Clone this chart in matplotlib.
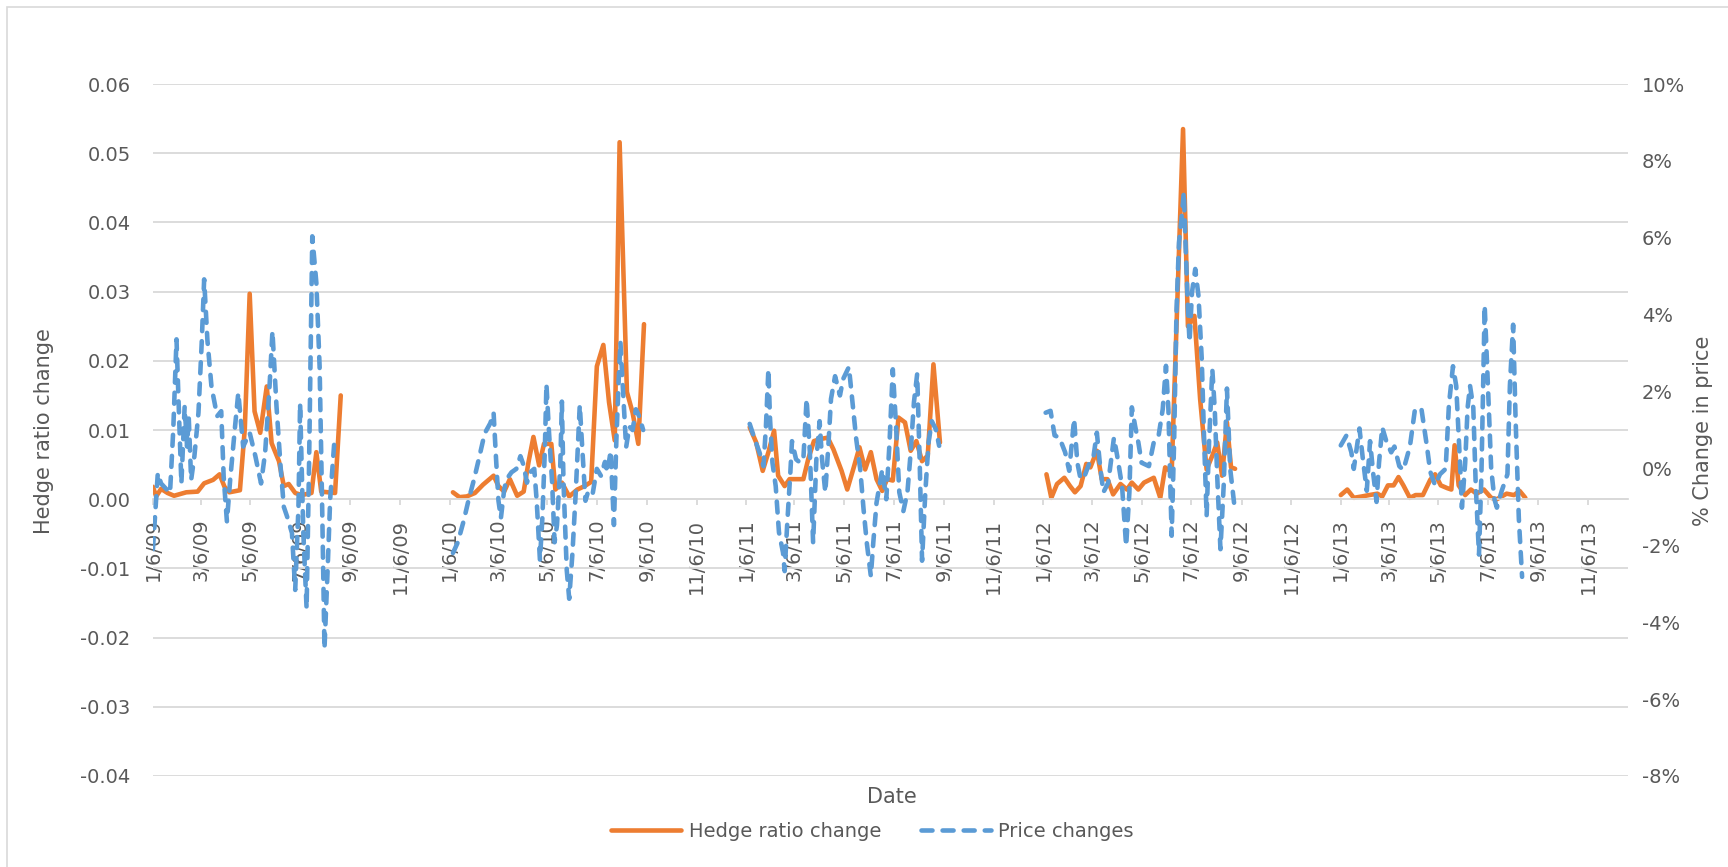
import pandas as pd
import matplotlib
matplotlib.use("Agg")
import matplotlib.pyplot as plt
import matplotlib.dates as mdates
from matplotlib.ticker import FuncFormatter, MultipleLocator
from matplotlib.patches import Rectangle


# Days counted from 6 Jan of each year
years = [2009, 2010, 2011, 2012, 2013]

# Hedge ratio change (left axis)
hedgeDays2009 = [0, 4, 10, 18, 26, 41, 55, 63, 74, 82, 88, 94, 107, 113, 119, 125, 132, 140, 146, 155,
                 161, 167, 175, 183, 195, 201, 207, 224, 231]
hedge2009 = [0.0018, 0.0004, 0.0015, 0.0009, 0.0005, 0.0010, 0.0011, 0.0023, 0.0028, 0.0036,
             0.0018, 0.0010, 0.0013, 0.0102, 0.0297, 0.0127, 0.0096, 0.0163, 0.0081, 0.0055,
             0.0019, 0.0022, 0.0009, 0.0006, 0.0009, 0.0068, 0.0011, 0.0009, 0.0150]

hedgeDays2010 = [4, 12, 21, 31, 41, 54, 60, 67, 74, 83, 91, 97, 103, 110, 116, 125, 130, 138, 147, 157,
                 166, 174, 181, 189, 196, 203, 209, 218, 225, 232, 239]
hedge2010 = [0.0010, 0.0003, 0.0004, 0.0009, 0.0021, 0.0034, 0.0019, 0.0011, 0.0029, 0.0005,
             0.0011, 0.0054, 0.0090, 0.0049, 0.0080, 0.0080, 0.0014, 0.0024, 0.0004, 0.0014,
             0.0019, 0.0025, 0.0192, 0.0223, 0.0140, 0.0085, 0.0516, 0.0155, 0.0125, 0.0080, 0.0253]

hedgeDays2011 = [4, 12, 20, 27, 34, 39, 47, 53, 70, 76, 83, 91, 100, 107, 117, 124, 132, 139, 146, 153,
                 160, 167, 173, 180, 187, 195, 202, 209, 216, 223, 230, 238]
hedge2011 = [0.0104, 0.0082, 0.0041, 0.0068, 0.0099, 0.0034, 0.0019, 0.0029, 0.0029, 0.0058,
             0.0084, 0.0087, 0.0089, 0.0072, 0.0041, 0.0014, 0.0046, 0.0075, 0.0043, 0.0068,
             0.0029, 0.0012, 0.0029, 0.0027, 0.0118, 0.0111, 0.0070, 0.0084, 0.0055, 0.0063,
             0.0195, 0.0082]

hedgeDays2012 = [4, 10, 17, 26, 33, 39, 46, 53, 58, 66, 72, 79, 86, 95, 103, 109, 117, 124, 136, 144,
                 150, 158, 172, 178, 186, 193, 201, 208, 214, 220, 226, 231, 236]
hedge2012 = [0.0036, 0.0002, 0.0022, 0.0031, 0.0019, 0.0010, 0.0019, 0.0051, 0.0046, 0.0070,
             0.0029, 0.0029, 0.0007, 0.0022, 0.0014, 0.0024, 0.0014, 0.0024, 0.0031, 0.0002,
             0.0046, 0.0039, 0.0535, 0.0250, 0.0265, 0.0145, 0.0043, 0.0063, 0.0082, 0.0034,
             0.0111, 0.0046, 0.0044]

hedgeDays2013 = [0, 8, 16, 26, 35, 45, 51, 58, 65, 71, 77, 85, 92, 101, 110, 116, 123, 131, 136, 140,
                 145, 153, 160, 167, 176, 185, 192, 204, 213, 220, 227]
hedge2013 = [0.0006, 0.0014, 0.0002, 0.0004, 0.0006, 0.0008, 0.0004, 0.0020, 0.0020, 0.0032,
             0.0020, 0.0002, 0.0006, 0.0006, 0.0028, 0.0036, 0.0020, 0.0016, 0.0014, 0.0078,
             0.0020, 0.0006, 0.0014, 0.0008, 0.0014, 0.0002, 0.0000, 0.0008, 0.0006, 0.0012, 0.0002]

# Price changes in % (right axis)
priceDays2009 = [0, 6, 10, 21, 25, 29, 32, 35, 39, 42, 44, 47, 51, 56, 60, 63, 67, 72, 79, 84,
                 87, 91, 95, 101, 105, 111, 119, 126, 133, 138, 143, 147, 152, 157, 161, 165, 171, 175, 179, 181,
                 185, 189, 192, 196, 201, 205, 208, 211, 215, 218, 223]
price2009 = [-2.10, -0.12, -0.39, -0.64, 1.00, 3.36, 1.45, -0.39, 1.61, 0.57,
             1.36, -0.30, 0.32, 1.45, 3.27, 4.92, 3.34, 2.13, 1.36, 1.49,
             -0.21, -1.38, -0.30, 1.09, 1.97, 0.57, 0.93, 0.32, -0.39, 0.41,
             1.97, 3.57, 1.61, 0.05, -1.00, -1.25, -1.68, -3.16, -1.00, 1.70,
             -1.68, -3.64, 0.05, 6.04, 4.83, 2.66, -0.82, -4.69, -2.56, -0.80, 0.66]

priceDays2010 = [4, 10, 17, 23, 30, 36, 43, 50, 54, 57, 60, 63, 67, 70, 76, 82, 87, 91, 95, 99,
                 104, 107, 111, 114, 117, 119, 122, 126, 129, 132, 136, 138, 140, 144, 147, 151, 155, 158, 160, 163,
                 167, 171, 176, 181, 186, 191, 194, 198, 202, 205, 208, 210, 213, 217, 221, 225, 229, 233, 238]
price2010 = [-2.20, -1.92, -1.38, -0.84, -0.28, 0.26, 0.91, 1.18, 1.45, 0.26,
             -0.84, -1.29, -0.55, -0.28, -0.10, -0.01, 0.32, 0.08, -0.37, -0.10,
             -0.01, -0.84, -2.38, -1.29, 0.46, 2.19, 1.00, -0.37, -1.92, -1.47,
             0.08, 1.74, -0.37, -2.65, -3.39, -2.20, -0.64, 0.73, 1.65, 0.55,
             -0.84, -0.55, -0.64, -0.01, -0.19, 0.17, -0.10, 0.46, -1.47, 0.73,
             2.37, 3.29, 2.10, 0.55, 1.09, 1.00, 1.54, 1.36, 1.00]

priceDays2011 = [4, 10, 16, 21, 24, 27, 29, 32, 36, 40, 45, 47, 50, 54, 56, 61, 66, 70, 74, 78,
                 82, 86, 90, 93, 97, 101, 104, 109, 115, 119, 126, 130, 135, 140, 144, 148, 153, 156, 160, 167,
                 172, 176, 180, 184, 188, 193, 198, 202, 206, 210, 213, 216, 220, 224, 228, 233, 237]
price2011 = [1.16, 0.77, 0.42, 0.06, 1.11, 2.58, 1.29, 0.15, -0.46, -1.66,
             -2.19, -2.67, -1.50, -0.10, 0.71, 0.24, 0.15, 0.24, 1.81, 0.42,
             -1.93, 0.24, 1.23, 0.24, -0.62, 0.68, 1.81, 2.40, 1.90, 2.33,
             2.64, 1.81, 0.77, -0.03, -1.05, -1.93, -2.80, -1.93, -0.89, -0.03,
             -0.80, 0.68, 2.58, 1.11, -0.62, -1.11, -0.62, 0.42, 1.72, 2.46,
             0.24, -2.40, -0.62, 0.68, 1.23, 1.02, 0.59]

priceDays2012 = [3, 9, 14, 20, 27, 32, 38, 42, 46, 51, 57, 62, 66, 70, 74, 80, 87, 91, 97, 102,
                 106, 109, 113, 117, 121, 130, 136, 142, 147, 151, 154, 156, 158, 161, 164, 167, 170, 173, 175, 178,
                 180, 183, 187, 191, 195, 198, 201, 204, 208, 211, 214, 218, 222, 226, 230, 235]
price2012 = [1.45, 1.50, 0.86, 0.80, 0.42, -0.06, 1.29, 0.15, -0.28, -0.19,
             0.15, 0.33, 0.93, 0.06, -0.62, -0.37, 0.80, 0.33, -0.46, -2.02,
             -0.62, 1.59, 1.11, 0.68, 0.15, 0.06, 0.68, 0.86, 1.54, 2.67,
             1.54, -0.19, -1.75, 0.68, 4.15, 5.88, 6.49, 7.19, 5.88, 4.15,
             3.29, 4.58, 5.19, 4.49, 2.85, 0.68, -1.23, 0.68, 2.58, 1.54,
             -0.19, -2.10, -0.44, 2.08, -0.01, -0.94]

priceDays2013 = [0, 7, 13, 16, 23, 27, 32, 36, 40, 44, 47, 51, 56, 62, 66, 72, 77, 85, 91, 99,
                 106, 110, 116, 122, 129, 133, 138, 142, 147, 149, 153, 156, 159, 163, 166, 170, 173, 177, 181, 185,
                 189, 192, 198, 205, 208, 212, 215, 219, 223]
price2013 = [0.60, 0.86, 0.42, -0.01, 1.04, 0.28, -0.58, 0.71, -0.15, -0.87,
             0.14, 1.07, 0.71, 0.42, 0.57, 0.06, -0.04, 0.57, 1.50, 1.58,
             0.57, -0.08, -0.44, -0.15, -0.01, 1.65, 2.66, 2.15, -0.01, -1.02,
             0.14, 1.58, 2.15, 1.58, -0.44, -2.24, -0.15, 4.24, 2.15, -0.01,
             -0.80, -1.02, -0.58, -0.15, 2.15, 3.74, 1.29, -1.30, -2.82]

hedgeDays = [hedgeDays2009, hedgeDays2010, hedgeDays2011, hedgeDays2012, hedgeDays2013]
hedgeVals = [hedge2009, hedge2010, hedge2011, hedge2012, hedge2013]
priceDays = [priceDays2009, priceDays2010, priceDays2011, priceDays2012, priceDays2013]
priceVals = [price2009, price2010, price2011, price2012, price2013]

orange = "#ED7D31"
blue = "#5B9BD5"
grey = "#D9D9D9"
textCol = "#595959"


def toDates(year, days):
    return pd.Timestamp("%d-01-06" % year) + pd.to_timedelta(days, unit="D")


def dateLabel(x, pos):
    d = mdates.num2date(x)
    return "%d/%d/%s" % (d.month, d.day, d.strftime("%y"))


plt.rcParams["font.family"] = ["DejaVu Sans"]
plt.rcParams["axes.unicode_minus"] = False

fig = plt.figure(figsize=(17.28, 8.67), dpi=100)
ax = fig.add_axes([0.0885, 0.105, 0.8535, 0.798])
ax2 = ax.twinx()

for i, year in enumerate(years):
    ax.plot(toDates(year, hedgeDays[i]), hedgeVals[i], color=orange, lw=3.3,
            solid_joinstyle="round", solid_capstyle="round",
            label="Hedge ratio change" if i == 0 else None)
    ax2.plot(toDates(year, priceDays[i]), priceVals[i], color=blue, lw=3.3,
             dashes=(2.4, 2.2), dash_capstyle="round", dash_joinstyle="round",
             label="Price changes" if i == 0 else None)

# left axis
ax.set_ylim(-0.04, 0.06)
ax.yaxis.set_major_locator(MultipleLocator(0.01))
ax.yaxis.set_major_formatter(FuncFormatter(lambda v, p: "%.2f" % v))
ax.yaxis.grid(True, color=grey, lw=1.3)
ax.set_axisbelow(True)
ax.tick_params(axis="y", length=0, pad=16, labelsize=14, labelcolor=textCol)

# right axis
ax2.set_ylim(-8, 10)
ax2.yaxis.set_major_locator(MultipleLocator(2))
ax2.yaxis.set_major_formatter(FuncFormatter(lambda v, p: "%d%%" % round(v)))
ax2.tick_params(axis="y", length=0, pad=10, labelsize=14, labelcolor=textCol)

# date axis sitting on zero
ax.set_xlim(pd.Timestamp("2009-01-06"), pd.Timestamp("2013-12-25"))
ax.xaxis.set_major_locator(mdates.MonthLocator(bymonth=(1, 3, 5, 7, 9, 11), bymonthday=6))
ax.xaxis.set_major_formatter(FuncFormatter(dateLabel))
ax.tick_params(axis="x", direction="out", length=4, width=1.3, color=grey, pad=10,
               labelsize=14, labelcolor=textCol, labelrotation=90)

for s in ["top", "left", "right"]:
    ax.spines[s].set_visible(False)
for s in ["top", "left", "right", "bottom"]:
    ax2.spines[s].set_visible(False)
ax.spines["bottom"].set_position(("data", 0))
ax.spines["bottom"].set_color(grey)
ax.spines["bottom"].set_linewidth(1.3)

# titles
fig.text(0.0255, 0.503, "Hedge ratio change", rotation=90, ha="center", va="center",
         fontsize=15, color=textCol)
fig.text(0.9855, 0.503, "% Change in price", rotation=90, ha="center", va="center",
         fontsize=15, color=textCol)
fig.text(0.516, 0.081, "Date", ha="center", va="center", fontsize=15, color=textCol)

h1, l1 = ax.get_legend_handles_labels()
h2, l2 = ax2.get_legend_handles_labels()
fig.legend(h1 + h2, l1 + l2, loc="center", bbox_to_anchor=(0.505, 0.041), ncol=2,
           frameon=False, fontsize=14, handlelength=3.6, handletextpad=0.4,
           columnspacing=2.0, labelcolor=textCol)

# chart border
fig.patches.append(Rectangle((0.004, -0.05), 1.1, 1.042, transform=fig.transFigure,
                             fill=False, edgecolor=grey, lw=1.2))

fig.savefig("out.png", dpi=100)
print("Figure out.png created.")
